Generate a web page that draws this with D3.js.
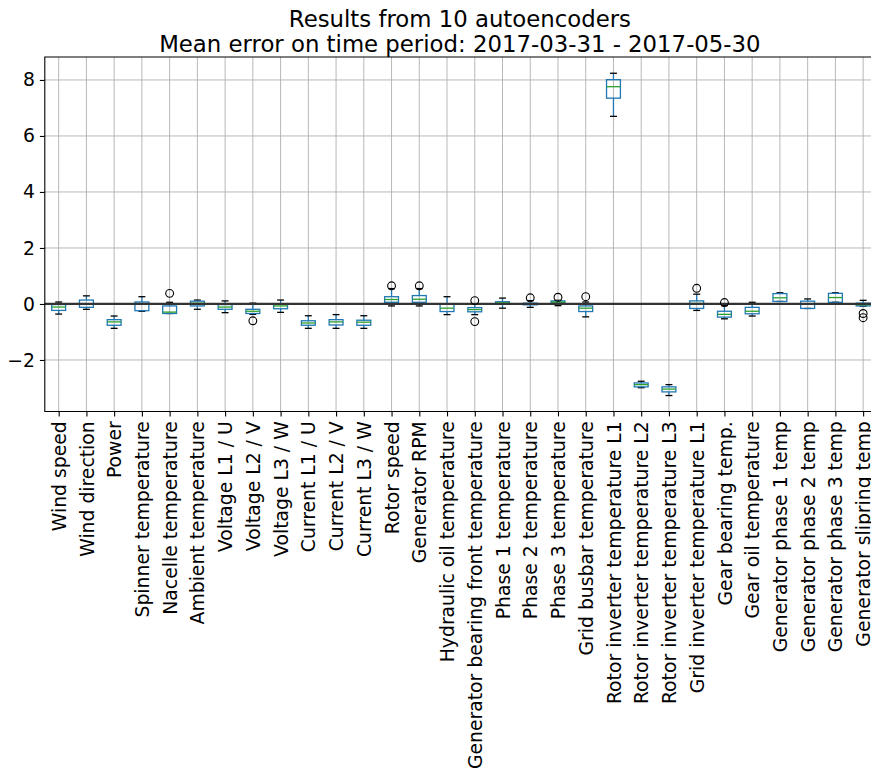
<!DOCTYPE html>
<html>
<head>
<meta charset="utf-8">
<script src="https://cdn.jsdelivr.net/npm/d3@7"></script>
<style>
  html, body { margin: 0; padding: 0; background: #fff; }
  svg { display: block; font-family: "DejaVu Sans", sans-serif; }
</style>
</head>
<body>
<svg id="chart" width="871" height="776"></svg>
<script>
// Signal names, one box per signal
const categories = [
  "Wind speed", "Wind direction", "Power", "Spinner temperature", "Nacelle temperature",
  "Ambient temperature", "Voltage L1 / U", "Voltage L2 / V", "Voltage L3 / W",
  "Current L1 / U", "Current L2 / V", "Current L3 / W", "Rotor speed", "Generator RPM",
  "Hydraulic oil temperature", "Generator bearing front temperature", "Phase 1 temperature",
  "Phase 2 temperature", "Phase 3 temperature", "Grid busbar temperature",
  "Rotor inverter temperature L1", "Rotor inverter temperature L2",
  "Rotor inverter temperature L3", "Grid inverter temperature L1", "Gear bearing temp.",
  "Gear oil temperature", "Generator phase 1 temp", "Generator phase 2 temp",
  "Generator phase 3 temp", "Generator slipring temp"
];

// Box statistics of the mean error per signal
const whiskerLow  = [-0.36, -0.19, -0.87, -0.26, -0.34, -0.19, -0.31, -0.37, -0.30, -0.87,
                     -0.87, -0.87, -0.07, -0.07, -0.38, -0.38, -0.15, -0.12, -0.06, -0.46,
                      6.70, -2.99, -3.27, -0.23, -0.53, -0.43,  0.09, -0.16,  0.06, -0.08];
const quartile1   = [-0.23, -0.12, -0.76, -0.24, -0.34, -0.07, -0.19, -0.34, -0.17, -0.76,
                     -0.75, -0.76,  0.06,  0.06, -0.27, -0.28,  0.00, -0.03,  0.04, -0.27,
                      7.35, -2.96, -3.14, -0.16, -0.47, -0.35,  0.09, -0.16,  0.06, -0.07];
const medians     = [-0.11,  0.01, -0.64,  0.00, -0.29,  0.03, -0.11, -0.26, -0.07, -0.68,
                     -0.64, -0.65,  0.16,  0.17, -0.15, -0.20,  0.04,  0.00,  0.07, -0.15,
                      7.76, -2.88, -3.04,  0.02, -0.37, -0.26,  0.22, -0.01,  0.23, -0.03];
const quartile3   = [-0.02,  0.14, -0.56,  0.07, -0.07,  0.10, -0.02, -0.19,  0.00, -0.60,
                     -0.56, -0.58,  0.26,  0.30,  0.00, -0.13,  0.08,  0.03,  0.11, -0.07,
                      8.01, -2.82, -2.96,  0.11, -0.26, -0.12,  0.37,  0.10,  0.38,  0.03];
const whiskerHigh = [ 0.07,  0.29, -0.43,  0.26,  0.06,  0.14,  0.11,  0.03,  0.14, -0.42,
                     -0.38, -0.42,  0.55,  0.55,  0.26,  0.00,  0.21,  0.12,  0.13,  0.07,
                      8.24, -2.76, -2.88,  0.35, -0.06,  0.06,  0.40,  0.18,  0.40,  0.13];
const fliers = [[], [], [], [], [0.38], [], [], [-0.60], [], [],
                [], [], [0.65], [0.65], [], [0.12, -0.63], [], [0.22], [0.24], [0.26],
                [], [], [], [0.56], [0.05], [], [], [], [], [-0.34, -0.49]];

const yTicks = [-2, 0, 2, 4, 6, 8];
const titleLines = ["Results from 10 autoencoders",
                    "Mean error on time period: 2017-03-31 - 2017-05-30"];

const svg = d3.select("#chart");
const plotLeft = 44.8, plotRight = 877, plotTop = 57, plotBottom = 411.5;

const positions = categories.map((_, i) => i + 1);
const x = d3.scaleLinear().domain([0.5, categories.length + 0.5]).range([plotLeft, plotRight]);
const y = d3.scaleLinear().domain([-3.84, 8.82]).range([plotBottom, plotTop]);

const blue = "#1f77b4", green = "#2ca02c";
const lw = 1.3;
const boxHalf = 0.25, capHalf = 0.125;

// Grid
const grid = svg.append("g").attr("stroke", "#b0b0b0").attr("stroke-width", 0.9);
grid.selectAll("line.gx").data(positions).join("line").attr("class", "gx")
  .attr("x1", d => x(d)).attr("x2", d => x(d)).attr("y1", plotTop).attr("y2", plotBottom);
grid.selectAll("line.gy").data(yTicks).join("line").attr("class", "gy")
  .attr("x1", plotLeft).attr("x2", plotRight).attr("y1", d => y(d)).attr("y2", d => y(d));

// Boxes
const rows = categories.map((c, i) => ({
  pos: i + 1, wl: whiskerLow[i], q1: quartile1[i], med: medians[i],
  q3: quartile3[i], wh: whiskerHigh[i], fl: fliers[i]
}));

const g = svg.append("g");
const box = g.selectAll("g.box").data(rows).join("g").attr("class", "box");

box.append("line") // lower whisker
  .attr("x1", d => x(d.pos)).attr("x2", d => x(d.pos))
  .attr("y1", d => y(d.q1)).attr("y2", d => y(d.wl))
  .attr("stroke", blue).attr("stroke-width", lw);
box.append("line") // upper whisker
  .attr("x1", d => x(d.pos)).attr("x2", d => x(d.pos))
  .attr("y1", d => y(d.q3)).attr("y2", d => y(d.wh))
  .attr("stroke", blue).attr("stroke-width", lw);
box.append("line") // lower cap
  .attr("x1", d => x(d.pos - capHalf)).attr("x2", d => x(d.pos + capHalf))
  .attr("y1", d => y(d.wl)).attr("y2", d => y(d.wl))
  .attr("stroke", "#000").attr("stroke-width", lw);
box.append("line") // upper cap
  .attr("x1", d => x(d.pos - capHalf)).attr("x2", d => x(d.pos + capHalf))
  .attr("y1", d => y(d.wh)).attr("y2", d => y(d.wh))
  .attr("stroke", "#000").attr("stroke-width", lw);
box.append("rect")
  .attr("x", d => x(d.pos - boxHalf)).attr("width", d => x(d.pos + boxHalf) - x(d.pos - boxHalf))
  .attr("y", d => y(d.q3)).attr("height", d => y(d.q1) - y(d.q3))
  .attr("fill", "none").attr("stroke", blue).attr("stroke-width", lw);
box.append("line") // median
  .attr("x1", d => x(d.pos - boxHalf)).attr("x2", d => x(d.pos + boxHalf))
  .attr("y1", d => y(d.med)).attr("y2", d => y(d.med))
  .attr("stroke", green).attr("stroke-width", lw);

// Zero reference line
svg.append("line")
  .attr("x1", plotLeft).attr("x2", plotRight).attr("y1", y(0)).attr("y2", y(0))
  .attr("stroke", "#333").attr("stroke-width", 2.2);

// Outliers
svg.append("g").selectAll("circle")
  .data(rows.flatMap(d => d.fl.map(v => ({ pos: d.pos, v }))))
  .join("circle")
  .attr("cx", d => x(d.pos)).attr("cy", d => y(d.v)).attr("r", 3.9)
  .attr("fill", "none").attr("stroke", "#000").attr("stroke-width", 1.1);

// Axes
const fs = 18.8;
const yAxis = svg.append("g").attr("transform", `translate(${plotLeft},0)`)
  .call(d3.axisLeft(y).tickValues(yTicks).tickSize(4.9).tickPadding(4.9)
    .tickFormat(d => d < 0 ? "\u2212" + Math.abs(d) : String(d)));
yAxis.select(".domain").remove();
yAxis.selectAll(".tick line").attr("stroke", "#000").attr("stroke-width", 1.1);
yAxis.selectAll(".tick text").attr("font-size", fs).attr("fill", "#000")
  .attr("font-family", "DejaVu Sans");

const xAxis = svg.append("g").attr("transform", `translate(0,${plotBottom})`)
  .call(d3.axisBottom(x).tickValues(positions).tickSize(4.9).tickFormat(""));
xAxis.select(".domain").remove();
xAxis.selectAll(".tick text").remove();
xAxis.selectAll(".tick line").attr("stroke", "#000").attr("stroke-width", 1.1);
xAxis.selectAll(".tick").append("text")
  .text(d => categories[d - 1])
  .attr("transform", "rotate(-90)")
  .attr("x", -9.8).attr("y", 0).attr("dy", "0.35em")
  .attr("text-anchor", "end")
  .attr("font-size", fs).attr("fill", "#000")
  .attr("font-family", "DejaVu Sans");

// Spines
svg.append("path")
  .attr("d", `M${plotRight},${plotTop}H${plotLeft}V${plotBottom}H${plotRight}`)
  .attr("fill", "none").attr("stroke", "#000").attr("stroke-width", 1.1);

// Title
svg.append("g").selectAll("text").data(titleLines).join("text")
  .attr("x", (plotLeft + plotRight) / 2 - 1).attr("y", (d, i) => 27 + i * 25)
  .attr("text-anchor", "middle").attr("font-size", 22.8).attr("fill", "#000")
  .attr("font-family", "DejaVu Sans")
  .text(d => d);
</script>
</body>
</html>
